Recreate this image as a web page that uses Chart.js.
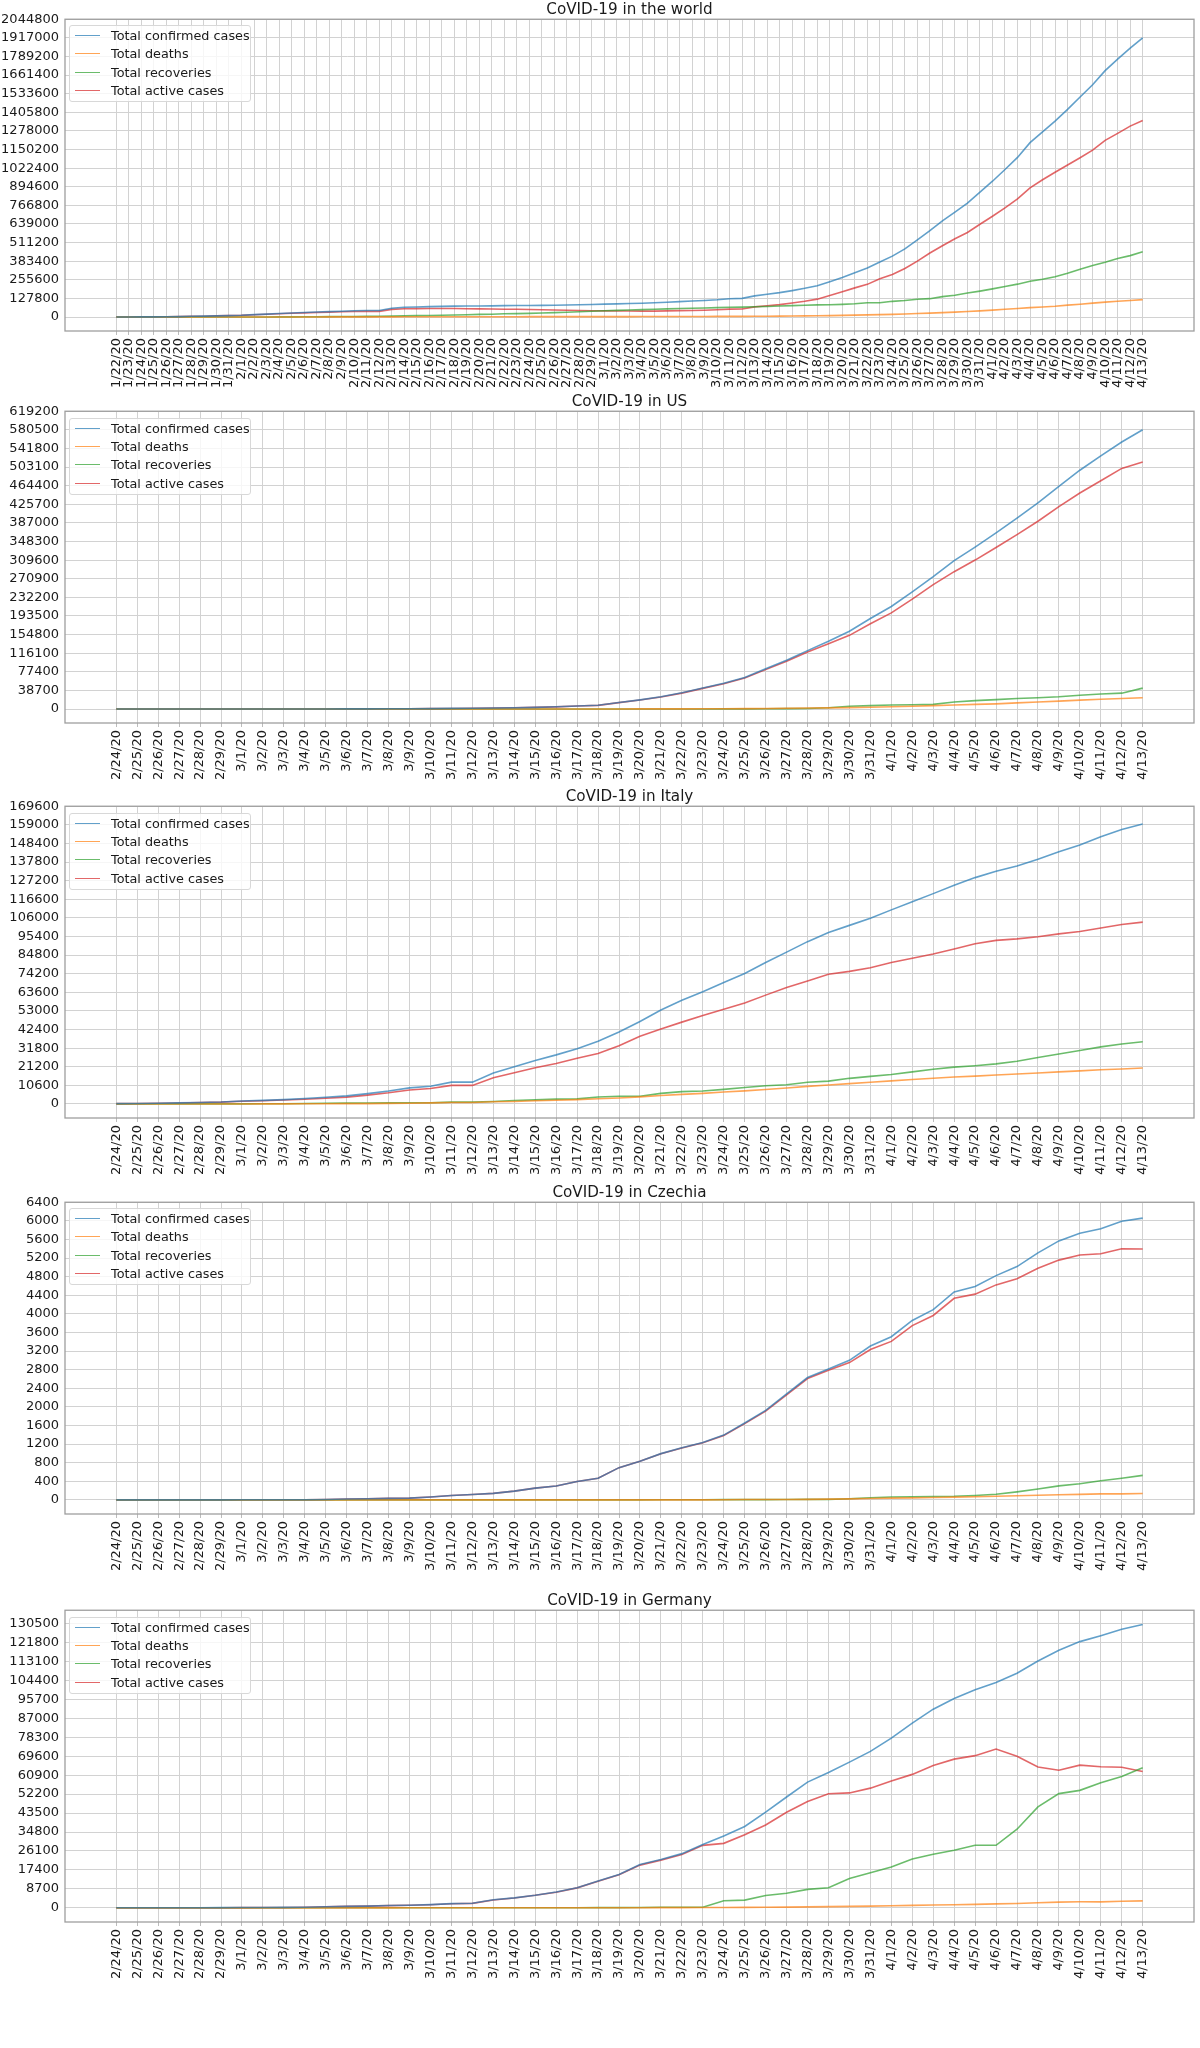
<!DOCTYPE html>
<html>
<head>
<meta charset="utf-8">
<script src="https://cdn.jsdelivr.net/npm/chart.js@4.4.1/dist/chart.umd.min.js"></script>
<style>
  body { margin: 0; background: #fff; }
  #page { position: relative; width: 1200px; height: 2048px; font-family: "DejaVu Sans", sans-serif; }
  .plot { position: absolute; left: 0; width: 1200px; }
  .legend { position: absolute; left: 69px; width: 182px; height: 77px; box-sizing: border-box;
            border: 1px solid #d8d8d8; border-radius: 3px; background: rgba(255,255,255,0.8);
            font-size: 12.8px; color: #1a1a1a; }
  .legend .row { position: absolute; left: 0; height: 18px; line-height: 18px; white-space: nowrap; }
  .legend .swatch { position: absolute; left: 5px; top: 8px; width: 25px; height: 0; border-top: 1.6px solid; }
  .legend .name { position: absolute; left: 41px; top: 0; }
</style>
</head>
<body>
<div id="page"></div>
<script>
// ---- data ----
var worldDates = ['1/22/20','1/23/20','1/24/20','1/25/20','1/26/20','1/27/20','1/28/20','1/29/20','1/30/20','1/31/20',
  '2/1/20','2/2/20','2/3/20','2/4/20','2/5/20','2/6/20','2/7/20','2/8/20','2/9/20','2/10/20',
  '2/11/20','2/12/20','2/13/20','2/14/20','2/15/20','2/16/20','2/17/20','2/18/20','2/19/20','2/20/20',
  '2/21/20','2/22/20','2/23/20','2/24/20','2/25/20','2/26/20','2/27/20','2/28/20','2/29/20',
  '3/1/20','3/2/20','3/3/20','3/4/20','3/5/20','3/6/20','3/7/20','3/8/20','3/9/20','3/10/20',
  '3/11/20','3/12/20','3/13/20','3/14/20','3/15/20','3/16/20','3/17/20','3/18/20','3/19/20','3/20/20',
  '3/21/20','3/22/20','3/23/20','3/24/20','3/25/20','3/26/20','3/27/20','3/28/20','3/29/20','3/30/20','3/31/20',
  '4/1/20','4/2/20','4/3/20','4/4/20','4/5/20','4/6/20','4/7/20','4/8/20','4/9/20','4/10/20',
  '4/11/20','4/12/20','4/13/20'];

var countryDates = ['2/24/20','2/25/20','2/26/20','2/27/20','2/28/20','2/29/20',
  '3/1/20','3/2/20','3/3/20','3/4/20','3/5/20','3/6/20','3/7/20','3/8/20','3/9/20','3/10/20',
  '3/11/20','3/12/20','3/13/20','3/14/20','3/15/20','3/16/20','3/17/20','3/18/20','3/19/20','3/20/20',
  '3/21/20','3/22/20','3/23/20','3/24/20','3/25/20','3/26/20','3/27/20','3/28/20','3/29/20','3/30/20','3/31/20',
  '4/1/20','4/2/20','4/3/20','4/4/20','4/5/20','4/6/20','4/7/20','4/8/20','4/9/20','4/10/20',
  '4/11/20','4/12/20','4/13/20'];

var seriesNames = ['Total confirmed cases', 'Total deaths', 'Total recoveries', 'Total active cases'];
var seriesColors = ['rgba(31,119,180,0.7)', 'rgba(255,127,14,0.7)', 'rgba(44,160,44,0.7)', 'rgba(214,39,40,0.7)'];

var worldConfirmed = [555,654,941,1434,2118,2927,5578,6166,8234,9927,
  12038,16787,19881,23892,27635,30794,34391,37120,40150,42762,
  44802,45221,60368,66885,69030,71224,73258,75136,75639,76197,
  76819,78572,78958,79561,80406,81388,82746,84112,86011,88369,
  90306,92840,95120,97886,101801,105847,109821,113590,118620,125875,
  128352,145205,156101,167454,181574,197102,214821,242570,272208,304507,
  336953,378235,418045,467653,529591,593291,660706,720117,782365,857487,
  932605,1013157,1095917,1197405,1272115,1345048,1426096,1511104,1595350,1691719,
  1771514,1846680,1917320];
var worldDeaths = [17,18,26,42,56,82,131,133,171,213,
  259,362,426,492,564,634,719,806,906,1013,
  1113,1118,1371,1523,1666,1770,1868,2007,2122,2247,
  2251,2458,2469,2629,2708,2770,2814,2872,2941,2996,
  3085,3160,3254,3348,3460,3558,3802,3988,4262,4615,
  4720,5404,5819,6440,7126,7905,8733,9867,11299,12973,
  14651,16505,18625,21181,23970,27198,30652,33925,37582,42107,
  47180,52983,58787,64606,69374,74565,81865,88338,95455,102525,
  108503,114091,119482];
var worldRecovered = [28,30,36,39,52,61,107,126,143,222,
  284,472,623,852,1124,1487,2011,2616,3244,3946,
  4683,5150,6295,8058,9395,10865,12583,14352,16121,18177,
  18890,22886,23394,25227,27905,30384,33277,36711,39782,42716,
  45602,48228,51170,53796,55865,58358,60694,62494,64404,67003,
  68324,70251,72624,76034,78088,80840,83207,84854,87256,91359,
  97882,98351,107890,113604,122150,126139,140217,149082,164566,178034,
  193177,210263,225796,246152,260012,276515,300054,328661,353975,376096,
  402110,421722,448655];
var worldActive = [510,606,879,1353,2010,2784,5340,5907,7920,9492,
  11495,15953,18832,22548,25947,28673,31661,33698,36000,37803,
  39006,38953,52702,57304,57969,58589,58807,58777,57396,55773,
  55678,53228,53095,51705,49793,48234,46655,44529,43288,42657,
  41619,41452,40696,40742,42476,43931,45325,47108,49954,54257,
  55308,69550,77658,84980,96360,108357,122881,147849,173653,200175,
  224420,263379,291530,332868,383471,439954,489837,537110,580217,637346,
  692248,749911,811334,886647,942729,993968,1044177,1094105,1145920,1213098,
  1260901,1310867,1349183];

var usConfirmed = [51,51,57,58,60,68,
  74,98,118,149,217,262,402,518,583,959,
  1281,1663,2179,2727,3499,4632,6421,7786,13680,19101,
  25493,33746,43667,53740,65778,83836,101657,121465,140909,161831,188172,
  213242,243622,275367,308650,336802,366317,397121,428654,462780,496535,
  526396,555313,580619];
var usDeaths = [0,0,0,0,0,1,
  1,6,7,11,12,14,17,21,22,28,
  36,40,47,54,63,85,108,118,200,244,
  307,427,552,706,942,1209,1581,2026,2467,2978,3873,
  4757,5926,7087,8407,9619,10783,12722,14695,16478,18586,
  20463,22020,23529];
var usRecovered = [5,5,5,5,7,7,
  7,7,7,7,7,7,7,7,7,8,
  8,12,12,12,12,17,17,105,121,147,
  176,178,178,348,361,681,869,1072,2665,5644,7024,
  8474,9001,9707,14652,17448,19581,21763,23559,25410,28790,
  31270,32988,43482];
var usActive = [46,46,52,53,53,60,
  66,85,104,131,198,241,378,490,554,923,
  1237,1611,2120,2661,3424,4530,6296,7563,13359,18710,
  25010,33141,42937,52686,64475,81946,99207,118367,135777,153209,177275,
  200011,228695,258573,285591,309735,335953,362636,390400,420892,449159,
  474663,500305,513608];

var italyConfirmed = [229,322,453,655,888,1128,
  1694,2036,2502,3089,3858,4636,5883,7375,9172,10149,
  12462,12462,17660,21157,24747,27980,31506,35713,41035,47021,
  53578,59138,63927,69176,74386,80589,86498,92472,97689,101739,105792,
  110574,115242,119827,124632,128948,132547,135586,139422,143626,147577,
  152271,156363,159516];
var italyDeaths = [7,10,12,17,21,29,
  34,52,79,107,148,197,233,366,463,631,
  827,827,1266,1441,1809,2158,2503,2978,3405,4032,
  4825,5476,6077,6820,7503,8215,9134,10023,10779,11591,12428,
  13155,13915,14681,15362,15887,16523,17127,17669,18279,18849,
  19468,19899,20465];
var italyRecovered = [1,1,3,45,46,46,
  83,149,160,276,414,523,589,622,724,724,
  1045,1045,1439,1966,2335,2749,2941,4025,4440,4440,
  6072,7024,7432,8326,9362,10361,10950,12384,13030,14620,15729,
  16847,18278,19758,20996,21815,22837,24392,26491,28470,30455,
  32534,34211,35435];
var italyActive = [221,311,438,593,821,1053,
  1577,1835,2263,2706,3296,3916,5061,6387,7985,8794,
  10590,10590,14955,17750,20603,23073,26062,28710,33190,38549,
  42681,46638,50418,54030,57521,62013,66414,70065,73880,75528,77635,
  80572,83049,85388,88274,91246,93187,94067,95262,96877,98273,
  100269,102253,103616];

var czechConfirmed = [0,0,0,0,0,0,
  3,3,5,5,8,19,26,32,38,63,
  94,116,141,189,253,298,396,464,694,833,
  995,1120,1236,1394,1654,1925,2279,2631,2817,3001,3308,
  3508,3858,4091,4472,4587,4822,5017,5312,5569,5732,
  5831,5991,6059];
var czechDeaths = [0,0,0,0,0,0,
  0,0,0,0,0,0,0,0,0,0,
  0,0,0,0,0,0,0,0,0,0,
  0,1,1,3,9,9,9,11,16,23,31,
  39,44,53,59,67,78,88,99,112,119,
  129,129,138];
var czechRecovered = [0,0,0,0,0,0,
  0,0,0,0,0,0,0,0,0,0,
  0,0,0,0,0,0,0,0,0,0,
  3,3,4,6,6,6,10,11,11,25,45,
  61,67,72,78,96,121,172,233,301,346,
  411,464,527];
var czechActive = [0,0,0,0,0,0,
  3,3,5,5,8,19,26,32,38,63,
  94,116,141,189,253,298,396,464,694,833,
  992,1116,1231,1385,1639,1910,2260,2609,2790,2953,3232,
  3408,3747,3966,4335,4424,4623,4757,4980,5156,5267,
  5291,5398,5394];

var germanyConfirmed = [16,17,27,46,48,79,
  130,159,196,262,482,670,799,1040,1176,1457,
  1908,2078,3675,4585,5795,7272,9257,12327,15320,19848,
  22213,24873,29056,32986,37323,43938,50871,57695,62095,66885,71808,
  77872,84794,91159,96092,100123,103374,107663,113296,118181,122171,
  124908,127854,130072];
var germanyDeaths = [0,0,0,0,0,0,
  0,0,0,0,0,0,0,0,2,2,
  3,3,7,9,11,17,24,28,44,67,
  84,94,123,157,206,267,342,433,533,645,775,
  920,1107,1275,1444,1584,1810,2016,2349,2607,2767,
  2736,3022,3194];
var germanyRecovered = [14,14,14,14,14,16,
  16,16,16,16,16,16,17,18,18,18,
  25,25,46,46,46,67,67,105,113,180,
  233,266,266,3243,3547,5673,6658,8481,9211,13500,16100,
  18700,22440,24575,26400,28700,28700,36081,46300,52407,53913,
  57400,60300,64300];
var germanyActive = [2,3,13,32,34,63,
  114,143,180,246,466,654,782,1022,1156,1437,
  1880,2050,3622,4530,5738,7188,9166,12194,15163,19601,
  21896,24513,28667,29586,33570,37998,43871,48781,52351,52740,54933,
  58252,61247,65309,68248,69839,72864,69566,64647,63167,65491,
  64772,64532,62578];

// y tick labels of each panel
var worldTicks = [0,127800,255600,383400,511200,639000,766800,894600,1022400,1150200,1278000,1405800,1533600,1661400,1789200,1917000,2044800];
var usTicks = [0,38700,77400,116100,154800,193500,232200,270900,309600,348300,387000,425700,464400,503100,541800,580500,619200];
var italyTicks = [0,10600,21200,31800,42400,53000,63600,74200,84800,95400,106000,116600,127200,137800,148400,159000,169600];
var czechTicks = [0,400,800,1200,1600,2000,2400,2800,3200,3600,4000,4400,4800,5200,5600,6000,6400];
var germanyTicks = [0,8700,17400,26100,34800,43500,52200,60900,69600,78300,87000,95700,104400,113100,121800,130500];

// ---- layout ----
var TITLE_H = 18, PLOT_H = 312, XAXIS_H = 75, YAXIS_W = 65;
var FONT = '"DejaVu Sans", sans-serif';
var TEXT = '#1a1a1a';
var page = document.getElementById('page');

var framePlugin = {
  id: 'frame',
  afterDraw: function (chart) {
    var a = chart.chartArea, ctx = chart.ctx;
    ctx.save();
    ctx.strokeStyle = '#9e9e9e';
    ctx.lineWidth = 1.3;
    ctx.strokeRect(a.left, a.top, a.right - a.left, a.bottom - a.top);
    ctx.restore();
  }
};

function addLegend(plotTop) {
  var box = document.createElement('div');
  box.className = 'legend';
  box.style.top = (plotTop + 6.5) + 'px';
  seriesNames.forEach(function (name, i) {
    var row = document.createElement('div');
    row.className = 'row';
    row.style.top = (1 + i * 18.4) + 'px';
    row.innerHTML = '<span class="swatch" style="border-color:' + seriesColors[i] + '"></span>' +
                    '<span class="name">' + name + '</span>';
    box.appendChild(row);
  });
  page.appendChild(box);
}

function makePanel(title, dates, series, ticks, plotTop) {
  var wrap = document.createElement('div');
  wrap.className = 'plot';
  wrap.style.top = (plotTop - TITLE_H) + 'px';
  var canvas = document.createElement('canvas');
  canvas.width = 1200;
  canvas.height = TITLE_H + PLOT_H + XAXIS_H;
  wrap.appendChild(canvas);
  page.appendChild(wrap);

  // matplotlib-like view limits: 5% margins, stretched to cover the ticks
  var all = [].concat.apply([], series);
  var dMin = Math.min.apply(null, all), dMax = Math.max.apply(null, all);
  var pad = 0.05 * (dMax - dMin);
  var yMin = dMin - pad;
  var yMax = Math.max(dMax + pad, ticks[ticks.length - 1]);
  var n = dates.length;

  var datasets = series.map(function (vals, i) {
    return {
      label: seriesNames[i],
      data: vals.map(function (v, j) { return { x: j, y: v }; }),
      borderColor: seriesColors[i],
      borderWidth: 1.6,
      pointRadius: 0,
      tension: 0,
      fill: false
    };
  });

  new Chart(canvas, {
    type: 'line',
    data: { datasets: datasets },
    plugins: [framePlugin],
    options: {
      responsive: false,
      animation: false,
      events: [],
      layout: { padding: { left: 0, right: 6, top: 0, bottom: 0 } },
      plugins: {
        legend: { display: false },
        tooltip: { enabled: false },
        title: {
          display: true, text: title, fullSize: false, color: TEXT,
          font: { family: FONT, size: 15.2, weight: 'normal', lineHeight: 1.2 },
          padding: { top: 0, bottom: 0 }
        }
      },
      scales: {
        x: {
          type: 'linear',
          min: -0.05 * (n - 1),
          max: 1.05 * (n - 1),
          afterBuildTicks: function (s) { s.ticks = dates.map(function (d, i) { return { value: i }; }); },
          afterFit: function (s) { s.height = XAXIS_H; },
          ticks: {
            autoSkip: false, minRotation: 90, maxRotation: 90, padding: 3, color: TEXT,
            font: { family: FONT, size: 13 },
            callback: function (v) { return dates[v]; }
          },
          grid: { color: '#d2d2d2', lineWidth: 1, drawTicks: true, tickLength: 4, tickColor: '#bcbcbc' },
          border: { display: false }
        },
        y: {
          type: 'linear',
          min: yMin,
          max: yMax,
          afterBuildTicks: function (s) { s.ticks = ticks.map(function (v) { return { value: v }; }); },
          afterFit: function (s) { s.width = YAXIS_W; },
          ticks: {
            padding: 6, color: TEXT,
            font: { family: FONT, size: 13 },
            callback: function (v) { return String(v); }
          },
          grid: { color: '#d2d2d2', lineWidth: 1, drawTicks: false },
          border: { display: false }
        }
      }
    }
  });
  addLegend(plotTop);
}

makePanel('CoVID-19 in the world', worldDates,
  [worldConfirmed, worldDeaths, worldRecovered, worldActive], worldTicks, 18.5);
makePanel('CoVID-19 in US', countryDates,
  [usConfirmed, usDeaths, usRecovered, usActive], usTicks, 411);
makePanel('CoVID-19 in Italy', countryDates,
  [italyConfirmed, italyDeaths, italyRecovered, italyActive], italyTicks, 806);
makePanel('CoVID-19 in Czechia', countryDates,
  [czechConfirmed, czechDeaths, czechRecovered, czechActive], czechTicks, 1201.5);
makePanel('CoVID-19 in Germany', countryDates,
  [germanyConfirmed, germanyDeaths, germanyRecovered, germanyActive], germanyTicks, 1610);
</script>
</body>
</html>
